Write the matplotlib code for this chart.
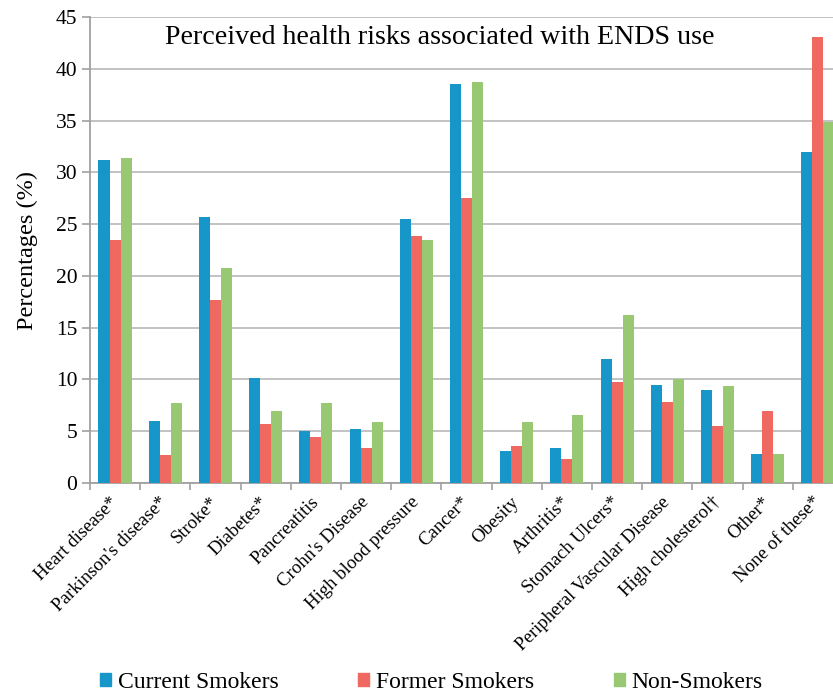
import numpy as np
import matplotlib.pyplot as plt
from matplotlib.patches import Patch

plt.rcParams['font.family'] = 'Liberation Serif'

# data
risks = ["Heart disease*", "Parkinson's disease*", "Stroke*", "Diabetes*",
         "Pancreatitis", "Crohn's Disease", "High blood pressure", "Cancer*",
         "Obesity", "Arthritis*", "Stomach Ulcers*", "Peripheral Vascular Disease",
         "High cholesterol\u2020", "Other*", "None of these*"]
current = [31.2, 6.0, 25.7, 10.1, 5.0, 5.2, 25.5, 38.5, 3.1, 3.4, 12.0, 9.5, 9.0, 2.8, 32.0]
former = [23.5, 2.7, 17.7, 5.7, 4.4, 3.4, 23.9, 27.5, 3.6, 2.3, 9.8, 7.8, 5.5, 7.0, 43.1]
never = [31.4, 7.7, 20.8, 7.0, 7.7, 5.9, 23.5, 38.7, 5.9, 6.6, 16.2, 10.0, 9.4, 2.8, 34.9]

series = {'Current Smokers': (current, '#1797c9'),
          'Former Smokers': (former, '#f06960'),
          'Non-Smokers': (never, '#98c872')}

x = np.arange(len(risks))
width = 0.22

fig = plt.figure(figsize=(8.33, 6.94), dpi=100)
ax = fig.add_axes([0.108, 0.304, 0.904, 0.6715])

handles = []
for i, (name, (vals, col)) in enumerate(series.items()):
    ax.bar(x + (i - 1) * width, vals, width, color=col, zorder=3)
    handles.append(Patch(color=col, label=name))

ax.set_xlim(-0.5, len(risks) - 0.5)
ax.set_ylim(0, 45)
ax.set_yticks(range(0, 46, 5))
ax.tick_params(axis='y', labelsize=15.5, length=6, color='#a0a0a0', width=1.2, pad=3)
ax.yaxis.grid(True, color='#bdbdbd', linewidth=1.3, zorder=0)
ax.set_axisbelow(True)

# category boundary ticks below the axis
ax.set_xticks(np.arange(len(risks) + 1) - 0.5, minor=False)
ax.set_xticklabels([])
ax.tick_params(axis='x', length=5, color='#a0a0a0', width=1.2)
ax.set_xticks(x, minor=True)
ax.set_xticklabels(risks, minor=True, rotation=45, ha='right', va='center',
                   rotation_mode='anchor', fontsize=13.5)
ax.tick_params(axis='x', which='minor', length=0, pad=12)

for s in ['top', 'right']:
    ax.spines[s].set_visible(False)
for s in ['left', 'bottom']:
    ax.spines[s].set_color('#a0a0a0')
    ax.spines[s].set_linewidth(1.3)

ax.set_ylabel('Percentages (%)', fontsize=17.5, labelpad=13)
ax.text(0.465, 0.955, 'Perceived health risks associated with ENDS use',
        transform=ax.transAxes, ha='center', va='center', fontsize=20.2)

fig.legend(handles=handles, loc='center', bbox_to_anchor=(0.518, 0.017), ncol=3,
           frameon=False, fontsize=17, handlelength=0.47, handleheight=0.47,
           handletextpad=0.3, columnspacing=3.35)

plt.savefig('out.png', dpi=100)
